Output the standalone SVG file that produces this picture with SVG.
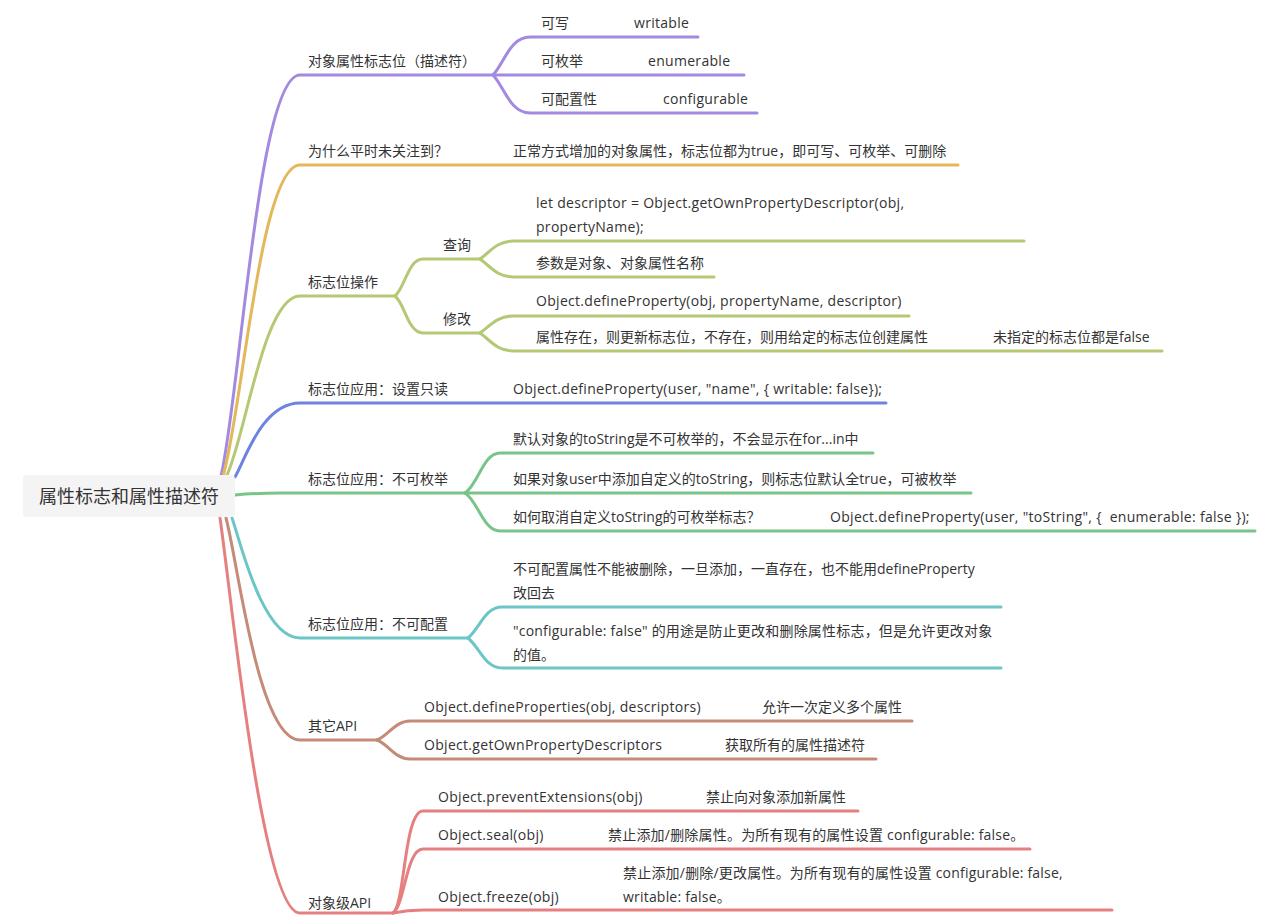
<svg xmlns="http://www.w3.org/2000/svg" width="1272" height="917" viewBox="0 0 1272 917">
<style>
.t{font-family:"Open Sans","Noto Sans CJK SC",sans-serif;font-size:14px;fill:#333;white-space:pre}
.l{letter-spacing:0.3px}
.m{letter-spacing:0.2px}
.r{font-size:18px}
#connectors path{fill:none;stroke-width:3;stroke-linecap:round}
.pu{stroke:#a38ae0}.go{stroke:#e3b75a}.ol{stroke:#b5c874}.bl{stroke:#6e82e0}.gr{stroke:#79c488}.te{stroke:#6cc6c6}.br{stroke:#c58b78}.rd{stroke:#e68080}
</style>
<rect width="1272" height="917" fill="#ffffff"/>
<g id="connectors">
<path class="pu" d="M221 476 C240 396 258 75 300 75 L493 75"/>
<path class="pu" d="M493 75 C505 62 510 37 530 37 L698 37"/>
<path class="pu" d="M493 75 L744 75"/>
<path class="pu" d="M493 75 C505 88 510 113 530 113 L757 113"/>
<path class="go" d="M223 476 C242 414 260 165 300 165 L958 165"/>
<path class="ol" d="M226 477 C245 441 263 296 300 296 L395 296"/>
<path class="ol" d="M395 296 C405 288 408 259 423 259 L480 259"/>
<path class="ol" d="M395 296 C405 304 408 333 423 333 L480 333"/>
<path class="ol" d="M480 259 C490 252 497 241 513 241 L1024 241"/>
<path class="ol" d="M480 259 C490 266 497 277 513 277 L714 277"/>
<path class="ol" d="M480 333 C490 326 497 316 513 316 L909 316"/>
<path class="ol" d="M480 333 C490 340 497 351 513 351 L1162 351"/>
<path class="bl" d="M235 477 C245 460 262 403 300 403 L886 403"/>
<path class="gr" d="M235 495 Q256 493 280 493 L465 493"/>
<path class="gr" d="M465 493 C478 485 483 453 500 453 L873 453"/>
<path class="gr" d="M465 493 L971 493"/>
<path class="gr" d="M465 493 C478 501 483 531 500 531 L1255 531"/>
<path class="te" d="M232 518 C240 540 262 638 300 638 L468 638"/>
<path class="te" d="M468 638 C480 628 485 607 502 607 L1001 607"/>
<path class="te" d="M468 638 C480 648 485 668 502 668 L1001 668"/>
<path class="br" d="M226 518 C238 562 258 740 300 740 L377 740"/>
<path class="br" d="M377 740 C388 736 395 721 410 721 L912 721"/>
<path class="br" d="M377 740 C388 744 395 759 410 759 L876 759"/>
<path class="rd" d="M220 518 C232 600 262 913 300 913 L393 913"/>
<path class="rd" d="M393 913 C405 905 404 811 423 811 L858 811"/>
<path class="rd" d="M393 913 C405 905 406 849 423 849 L1030 849"/>
<path class="rd" d="M393 913 C403 911 410 910 423 910 L1112 910"/>
</g>
<g id="root">
<rect x="23" y="475" width="212" height="42" rx="4" fill="#f4f4f4"/>
<text class="t r" x="129" y="503" text-anchor="middle">属性标志和属性描述符</text>
</g>
<g id="n-flags">
<text class="t" x="308" y="66">对象属性标志位（描述符）</text>
</g>
<g id="n-writable"><text class="t" x="541" y="28">可写</text><text class="t l" x="634" y="28">writable</text></g>
<g id="n-enumerable"><text class="t" x="541" y="66">可枚举</text><text class="t l" x="648" y="66">enumerable</text></g>
<g id="n-configurable"><text class="t" x="541" y="104">可配置性</text><text class="t l" x="663" y="104">configurable</text></g>
<g id="n-why">
<text class="t" x="308" y="156">为什么平时未关注到？</text>
<text class="t" x="513" y="156">正常方式增加的对象属性，标志位都为true，即可写、可枚举、可删除</text>
</g>
<g id="n-ops"><text class="t" x="308" y="287">标志位操作</text></g>
<g id="n-query"><text class="t" x="443" y="250">查询</text></g>
<g id="n-query-1"><text class="t l" x="536" y="208">let descriptor = Object.getOwnPropertyDescriptor(obj,</text><text class="t l" x="536" y="232">propertyName);</text></g>
<g id="n-query-2"><text class="t" x="536" y="268">参数是对象、对象属性名称</text></g>
<g id="n-modify"><text class="t" x="443" y="324">修改</text></g>
<g id="n-modify-1"><text class="t l" x="536" y="306">Object.defineProperty(obj, propertyName, descriptor)</text></g>
<g id="n-modify-2"><text class="t" x="536" y="342">属性存在，则更新标志位，不存在，则用给定的标志位创建属性</text><text class="t" x="993" y="342">未指定的标志位都是false</text></g>
<g id="n-readonly">
<text class="t" x="308" y="394">标志位应用：设置只读</text>
<text class="t l" x="513" y="394">Object.defineProperty(user, "name", { writable: false});</text>
</g>
<g id="n-nonenum"><text class="t" x="308" y="484">标志位应用：不可枚举</text></g>
<g id="n-nonenum-1"><text class="t" x="513" y="444">默认对象的toString是不可枚举的，不会显示在for...in中</text></g>
<g id="n-nonenum-2"><text class="t" x="513" y="484">如果对象user中添加自定义的toString，则标志位默认全true，可被枚举</text></g>
<g id="n-nonenum-3"><text class="t" x="513" y="522">如何取消自定义toString的可枚举标志？</text><text class="t l" x="830" y="522">Object.defineProperty(user, "toString", {  enumerable: false });</text></g>
<g id="n-nonconf"><text class="t" x="308" y="629">标志位应用：不可配置</text></g>
<g id="n-nonconf-1"><text class="t" x="513" y="574">不可配置属性不能被删除，一旦添加，一直存在，也不能用defineProperty</text><text class="t" x="513" y="598">改回去</text></g>
<g id="n-nonconf-2"><text class="t m" x="513" y="636">"configurable: false" 的用途是防止更改和删除属性标志，但是允许更改对象</text><text class="t" x="513" y="660">的值。</text></g>
<g id="n-other"><text class="t" x="308" y="731">其它API</text></g>
<g id="n-other-1"><text class="t l" x="424" y="712">Object.defineProperties(obj, descriptors)</text><text class="t" x="762" y="712">允许一次定义多个属性</text></g>
<g id="n-other-2"><text class="t l" x="424" y="750">Object.getOwnPropertyDescriptors</text><text class="t" x="725" y="750">获取所有的属性描述符</text></g>
<g id="n-objlevel"><text class="t" x="308" y="908">对象级API</text></g>
<g id="n-obj-1"><text class="t l" x="438" y="802">Object.preventExtensions(obj)</text><text class="t" x="706" y="802">禁止向对象添加新属性</text></g>
<g id="n-obj-2"><text class="t l" x="438" y="840">Object.seal(obj)</text><text class="t m" x="608" y="840">禁止添加/删除属性。为所有现有的属性设置 configurable: false。</text></g>
<g id="n-obj-3"><text class="t l" x="438" y="902">Object.freeze(obj)</text><text class="t m" x="623" y="878">禁止添加/删除/更改属性。为所有现有的属性设置 configurable: false,</text><text class="t m" x="623" y="902">writable: false。</text></g>
</svg>
